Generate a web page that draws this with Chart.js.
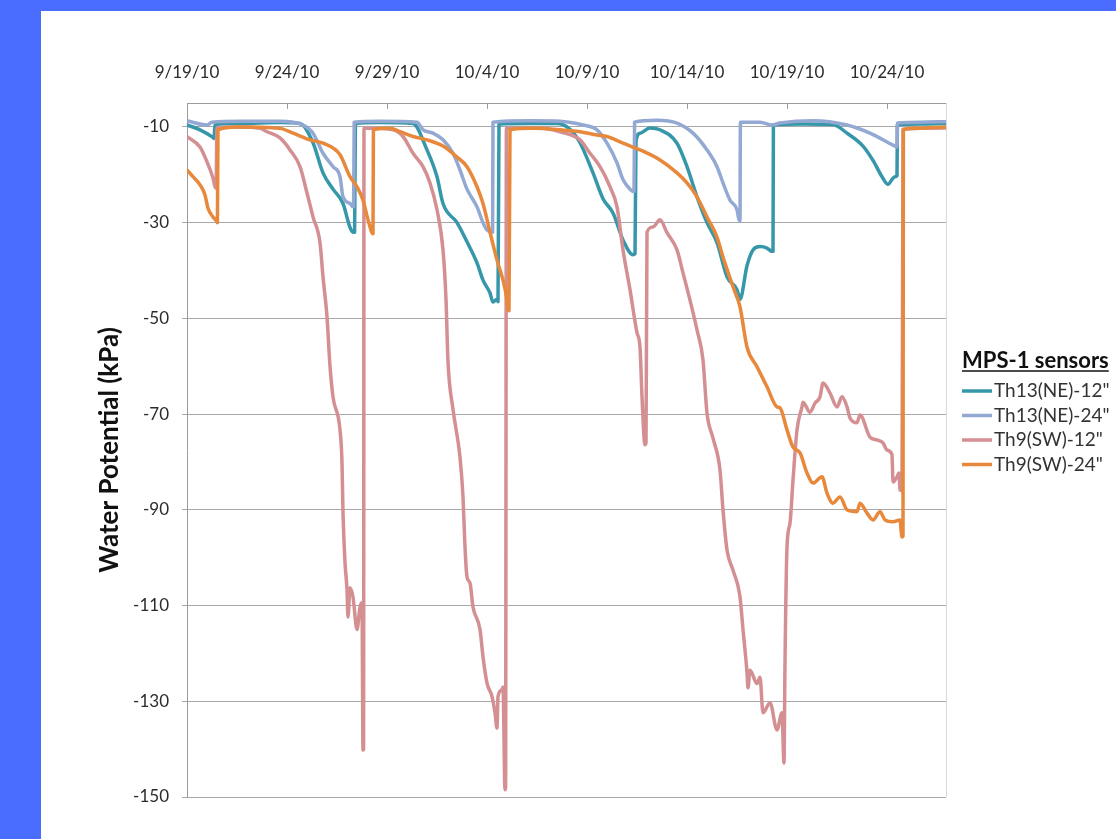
<!DOCTYPE html>
<html>
<head>
<meta charset="utf-8">
<script src="https://cdn.jsdelivr.net/npm/chart.js@4.4.1/dist/chart.umd.min.js"></script>
<style>
  html, body { margin: 0; padding: 0; background: #fff; }
  #wrap { width: 1116px; height: 839px; }
</style>
</head>
<body>
<div id="wrap"><canvas id="myChart" width="1116" height="839"></canvas></div>
<script>
// x values are days after 9/19/10, y values are kPa
const dateTicks = [0, 5, 10, 15, 20, 25, 30, 35];
const dateLabels = ['9/19/10', '9/24/10', '9/29/10', '10/4/10', '10/9/10', '10/14/10', '10/19/10', '10/24/10'];
const kpaTicks = [-150, -130, -110, -90, -70, -50, -30, -10];
const seriesNames = ['Th13(NE)-12"', 'Th13(NE)-24"', 'Th9(SW)-12"', 'Th9(SW)-24"'];
const seriesColors = ['#3597a9', '#93a8d2', '#d48f92', '#e8883b'];

const ne12Day = [0,0.65,1.3,1.35,1.4,2.65,4.65,5.65,6.3,6.8,7.3,7.8,8.15,8.3,8.38,8.42,9.65,11.3,12.0,12.5,12.8,13.5,14.0,14.5,14.8,15.15,15.3,15.5,15.55,15.6,17.15,18.5,19.15,19.65,20.3,20.8,21.3,21.8,22.3,22.4,22.45,22.65,23.15,23.65,24.5,25,25.5,26,26.5,27,27.5,27.65,28,28.3,28.65,29,29.25,29.3,29.32,30.65,32.3,33,33.8,34.3,34.75,35.05,35.3,35.4,35.5,35.52,36.65,37.95];
const ne12Kpa = [-9.6,-10.6,-12.2,-12.4,-9.5,-9.3,-9.1,-9.3,-13.3,-19.6,-23,-26,-31,-32,-32,-9.3,-9.1,-9.3,-14.8,-20.4,-26,-30,-34,-38.4,-42,-44.7,-46.6,-46,-46.5,-9.4,-9.3,-9.3,-10.5,-13.3,-19.6,-25,-28,-33.6,-36.7,-36.5,-13,-11.3,-10.2,-10.6,-13.4,-18.3,-24.6,-30,-34.2,-41.3,-44,-46,-39,-35.7,-35,-35.3,-36,-36,-9.6,-9.4,-9.5,-11.3,-14,-17,-20.4,-22,-20.7,-20.4,-20.2,-9.6,-9.4,-9.3];

const ne24Day = [0,1,1.25,2.65,4.65,5.8,6.3,6.8,7.3,7.65,7.8,8.15,8.3,8.33,8.36,9.65,11.5,11.8,12.3,12.8,13.3,13.65,14,14.5,14.8,15,15.25,15.28,15.3,17.15,18.65,19.8,20.5,21,21.5,21.8,22.15,22.3,22.35,22.38,23.5,24.5,25.3,26,26.5,26.8,27.15,27.5,27.6,27.65,27.67,28.65,29.25,29.65,31.3,33,34.15,35.3,35.5,35.52,36.65,37.95];
const ne24Kpa = [-8.7,-9.6,-9,-8.8,-8.8,-9.6,-11.3,-15.5,-18.3,-20.4,-24.6,-26,-26.7,-26.7,-9,-8.8,-9,-10.6,-11.3,-12.7,-15.5,-19,-23,-26.7,-30,-31.5,-32,-32,-9,-8.7,-8.8,-9.6,-10.6,-13.4,-17.5,-21,-23,-23.5,-23.5,-9,-8.6,-9.2,-11.3,-14.8,-18.3,-21.7,-25.3,-27.3,-29.4,-29.6,-9,-9,-9.6,-9.2,-8.7,-9.6,-11.3,-13.8,-14.2,-9.2,-9,-8.9];

const sw12Day = [0,0.65,1,1.3,1.4,1.45,1.5,2.65,3.65,4,4.65,5.15,5.65,6,6.3,6.65,6.8,7,7.15,7.3,7.65,7.75,7.8,7.9,8,8.05,8.15,8.3,8.5,8.65,8.75,8.8,8.83,8.85,9.15,10.3,10.8,11.3,11.8,12.15,12.5,12.8,12.95,13.05,13.3,13.65,13.8,13.9,14,14.15,14.3,14.65,14.8,15,15.25,15.4,15.5,15.55,15.75,15.8,15.9,15.93,15.97,16.15,17.65,18.65,19.65,20.15,20.65,21.15,21.5,21.8,22.15,22.5,22.65,22.75,22.9,22.95,23,23.3,23.65,24,24.5,24.8,25.15,25.5,25.8,26,26.3,26.65,26.8,27,27.3,27.65,27.8,28,28.05,28.15,28.5,28.65,28.8,29.15,29.5,29.75,29.85,29.9,30,30.15,30.3,30.5,30.75,30.8,31.15,31.4,31.65,31.8,32.15,32.5,32.75,33,33.15,33.5,33.65,34.15,34.5,34.8,35,35.25,35.3,35.5,35.6,35.65,35.75,35.8,37.95];
const sw12Kpa = [-12,-14.2,-17.3,-20.7,-22.5,-22.8,-10.2,-10,-10.3,-11,-12.3,-14.8,-18.3,-23.8,-28.8,-34.2,-41.3,-49.7,-60,-66.4,-73.3,-80.2,-90.6,-101,-106.7,-112.4,-106.3,-108.2,-115,-110.3,-109.4,-140.2,-140,-10.3,-10.3,-10.6,-12,-15.5,-18.3,-21.7,-27.3,-35.7,-46,-59,-69,-79,-87.3,-97.8,-104,-105.3,-110.3,-115,-120.7,-126.2,-129,-132.4,-135.6,-129,-127.6,-127,-148.5,-148,-10.3,-10.3,-10.2,-11,-12.7,-15.5,-18.3,-22.5,-26.7,-35.7,-44,-53,-56,-66.4,-76.4,-76,-32,-30.9,-29.4,-32.1,-35.7,-40.5,-46.2,-52.4,-58.7,-69.8,-75,-81.7,-90,-98.4,-102.6,-108.2,-115,-124,-127.2,-123.5,-126.3,-125,-132.4,-130.3,-136,-132.4,-142.9,-122,-97.8,-92.8,-83.8,-73.3,-68.5,-67.5,-69.6,-67.7,-66.4,-63.5,-65.6,-68.5,-66.4,-68.5,-70.8,-71.8,-70.2,-74.8,-75.4,-76,-77.5,-78.5,-84.2,-83.1,-82.3,-85.8,-86,-10.5,-10.2];

const sw24Day = [0,0.3,0.65,0.9,1.05,1.3,1.5,1.52,1.55,2.5,4.65,5.3,6.15,6.8,7.65,8.15,8.5,8.8,9.05,9.25,9.3,9.32,10.15,10.65,11.3,12,12.8,13.5,14,14.5,14.8,15.15,15.5,15.8,16,16.05,16.1,16.15,17.3,18.65,19.65,20.5,21,21.8,22.65,23.65,24.5,25,25.5,26,26.5,26.8,27.3,27.65,28,28.5,29,29.5,29.65,30,30.3,30.65,31,31.3,31.75,32,32.3,32.65,33,33.5,33.65,34,34.3,34.65,34.9,35.3,35.65,35.75,35.8,35.82,36.3,37.95];
const sw24Kpa = [-19,-20.4,-22.1,-24.2,-27,-28.8,-29.8,-30,-10.6,-10,-10.3,-11.3,-12.7,-13.4,-15.8,-20.4,-22.5,-25.3,-29.4,-32.1,-32.3,-10.6,-10.3,-11,-12,-12.7,-14,-16.3,-18.3,-22.5,-26,-32,-37.8,-42,-46.2,-48.2,-48.4,-10.6,-10.3,-10.6,-11,-11.7,-12,-13.4,-14.8,-16.9,-19.6,-21.7,-24.6,-28.8,-33,-37.2,-43.4,-47.6,-56,-60.1,-64.3,-68.5,-68.7,-73.3,-76.9,-78.1,-82.3,-84.4,-83.1,-86.5,-88.6,-87.3,-90,-90.4,-88.6,-90.7,-92.1,-90.4,-92.1,-92.5,-92.1,-95.7,-95.5,-10.6,-10.3,-10];

const FONT = 'Lato, "Open Sans", sans-serif';
const TEXT = '#2b2b2b';
const AXIS = '#9c9c9c';

const pairs = (days, kpa) => days.map((d, i) => ({x: d, y: kpa[i]}));
const allSeries = [[ne12Day, ne12Kpa], [ne24Day, ne24Kpa], [sw12Day, sw12Kpa], [sw24Day, sw24Kpa]];

const datasets = allSeries.map((s, i) => ({
    label: seriesNames[i],
    data: pairs(s[0], s[1]),
    borderColor: seriesColors[i],
    borderWidth: 3.5,
    pointRadius: 0,
    cubicInterpolationMode: 'monotone',
    borderJoinStyle: 'round',
    borderCapStyle: 'round',
    order: 3 - i, // later series on top, like Excel
}));

const decor = {
    id: 'decor',
    beforeDraw(chart) {
        const c = chart.ctx;
        c.save();
        c.fillStyle = '#fff';
        c.fillRect(0, 0, chart.width, chart.height);
        c.fillStyle = '#4a6dff';
        c.fillRect(0, 0, 41, chart.height);
        c.fillRect(0, 0, chart.width, 11);
        c.restore();
    },
    beforeDatasetsDraw(chart) {
        const c = chart.ctx, a = chart.chartArea, x = chart.scales.x;
        c.save();
        // right edge of plot area
        c.strokeStyle = '#d9d9d9';
        c.lineWidth = 1;
        c.beginPath();
        c.moveTo(a.right + 0.5, a.top);
        c.lineTo(a.right + 0.5, a.bottom);
        c.stroke();
        // small tick marks pointing into the plot from the top axis
        c.strokeStyle = AXIS;
        dateTicks.forEach(v => {
            const px = Math.round(x.getPixelForValue(v)) + 0.5;
            c.beginPath();
            c.moveTo(px, a.top);
            c.lineTo(px, a.top + 6);
            c.stroke();
        });
        c.restore();
    },
    afterDraw(chart) {
        const c = chart.ctx, a = chart.chartArea;
        c.save();
        // y axis title
        c.translate(110, (a.top + a.bottom) / 2);
        c.rotate(-Math.PI / 2);
        c.fillStyle = '#111';
        c.font = 'bold 26px ' + FONT;
        c.textAlign = 'center';
        c.textBaseline = 'middle';
        c.fillText('Water Potential (kPa)', 0, 0);
        c.restore();

        // legend (runs off the right edge, as in the slide)
        c.save();
        c.fillStyle = '#111';
        c.font = 'bold 22px ' + FONT;
        c.textBaseline = 'alphabetic';
        c.textAlign = 'left';
        const tx = 962, ty = 368;
        c.fillText('MPS-1 sensors', tx, ty);
        const w = c.measureText('MPS-1 sensors').width;
        c.strokeStyle = '#111';
        c.lineWidth = 1.5;
        c.beginPath();
        c.moveTo(tx, ty + 3);
        c.lineTo(tx + w, ty + 3);
        c.stroke();
        c.font = '19px ' + FONT;
        c.textBaseline = 'middle';
        seriesNames.forEach((name, i) => {
            const y = 391 + i * 24.5;
            c.strokeStyle = seriesColors[i];
            c.lineWidth = 3.5;
            c.beginPath();
            c.moveTo(962, y);
            c.lineTo(992, y);
            c.stroke();
            c.fillStyle = '#333';
            c.fillText(name, 994, y);
        });
        c.restore();
    }
};

const chart = document.querySelector('#myChart');
new Chart(chart, {
    type: 'line',
    data: { datasets: datasets },
    options: {
        responsive: false,
        animation: false,
        layout: { padding: { left: 0, right: 170, top: 0, bottom: 42 } },
        scales: {
            x: {
                type: 'linear',
                position: 'top',
                min: 0,
                max: 37.95,
                afterBuildTicks: s => { s.ticks = dateTicks.map(v => ({ value: v })); },
                afterFit: s => { s.height = 103; },
                ticks: {
                    callback: v => dateLabels[dateTicks.indexOf(v)],
                    font: { family: FONT, size: 17 },
                    color: TEXT,
                    padding: 20,
                    maxRotation: 0,
                    autoSkip: false,
                },
                grid: { drawOnChartArea: false, drawTicks: false },
                border: { color: AXIS },
            },
            y: {
                min: -150,
                max: -5,
                afterBuildTicks: s => { s.ticks = kpaTicks.map(v => ({ value: v })); },
                afterFit: s => { s.width = 187; },
                ticks: {
                    font: { family: FONT, size: 17 },
                    color: TEXT,
                    padding: 13,
                },
                grid: { color: '#a8a8a8', tickLength: 5 },
                border: { color: AXIS },
            },
        },
        plugins: {
            legend: { display: false },
            tooltip: { enabled: false },
        },
    },
    plugins: [decor],
});
</script>
</body>
</html>
